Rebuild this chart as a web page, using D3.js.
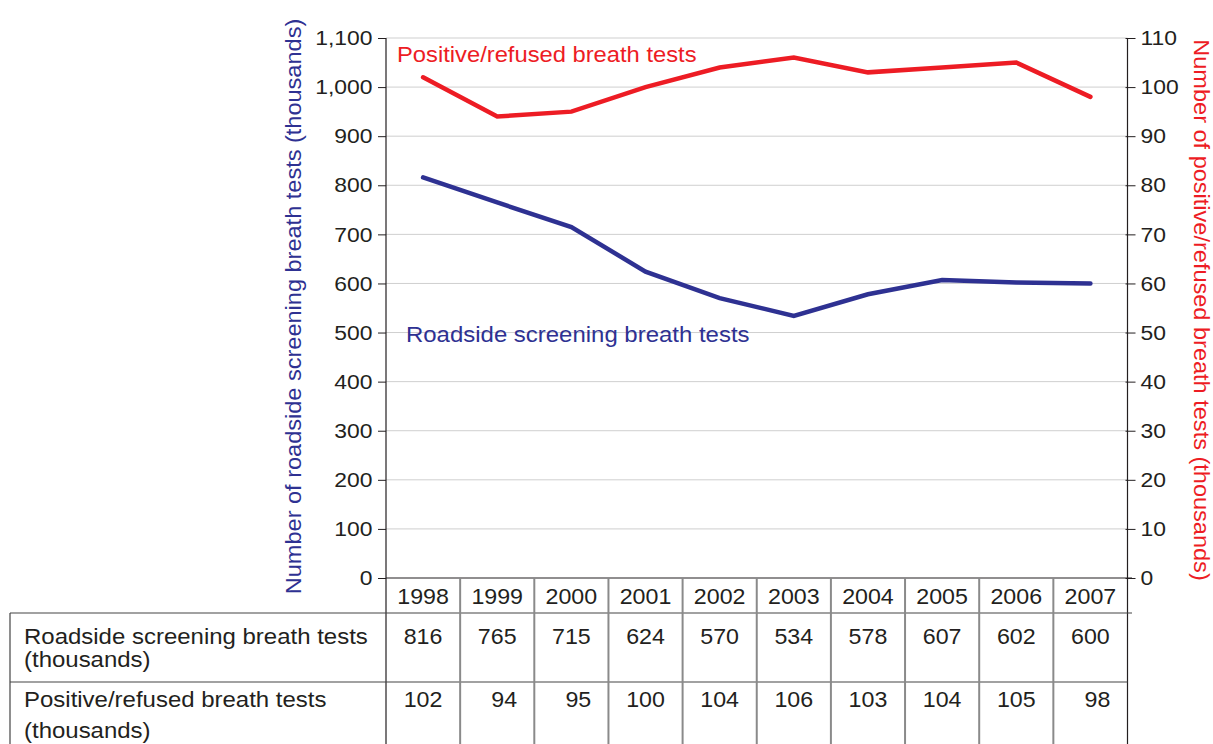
<!DOCTYPE html>
<html>
<head>
<meta charset="utf-8">
<script src="https://cdn.jsdelivr.net/npm/d3@7.9.0/dist/d3.min.js"></script>
<style>
  body { margin: 0; background: #fff; }
  svg text { font-family: "Liberation Sans", Arial, sans-serif; }
</style>
</head>
<body>
<svg id="chart" width="1213" height="744"></svg>
<script>
const years = [1998, 1999, 2000, 2001, 2002, 2003, 2004, 2005, 2006, 2007];
const roadside = [816, 765, 715, 624, 570, 534, 578, 607, 602, 600];
const positive = [102, 94, 95, 100, 104, 106, 103, 104, 105, 98];
const leftTicks = d3.range(0, 1101, 100);
const rightTicks = d3.range(0, 111, 10);
const rowLabels = [
  ["Roadside screening breath tests", "(thousands)"],
  ["Positive/refused breath tests", "(thousands)"]
];

const blue = "#2e3192", red = "#ed1c24", ink = "#231f20";
const svg = d3.select("#chart");
const plotL = 386, plotR = 1127.5, plotT = 38, plotB = 578;

// the source font is a little wider than Liberation Sans, so stretch text horizontally
function stretch(sel, k) {
  sel.each(function () {
    const t = d3.select(this);
    const x = +t.attr("x") || 0, y = +t.attr("y") || 0;
    t.attr("x", null).attr("y", null).attr("transform", `translate(${x},${y}) scale(${k},1)`);
  });
}

const x = d3.scaleBand().domain(years).range([plotL, plotR]);
const yL = d3.scaleLinear().domain([0, 1100]).range([plotB, plotT]);
const yR = d3.scaleLinear().domain([0, 110]).range([plotB, plotT]);

// gridlines
svg.append("g").selectAll("line").data(leftTicks.filter(d => d > 0)).join("line")
  .attr("x1", plotL).attr("x2", plotR)
  .attr("y1", d => yL(d)).attr("y2", d => yL(d))
  .attr("stroke", "#cfcfcf").attr("stroke-width", 1);

// axes
const axL = svg.append("g").attr("transform", `translate(${plotL},0)`)
  .call(d3.axisLeft(yL).tickValues(leftTicks).tickFormat(d3.format(",")).tickSize(8).tickPadding(5.5));
const axR = svg.append("g").attr("transform", `translate(${plotR},0)`)
  .call(d3.axisRight(yR).tickValues(rightTicks).tickSize(8).tickPadding(5));
[axL, axR].forEach(ax => {
  ax.select(".domain").remove();
  ax.selectAll("line").attr("stroke", ink);
  ax.selectAll("text").attr("font-size", 20.8).attr("fill", ink)
    .style("font-family", '"Liberation Sans", Arial, sans-serif');
  stretch(ax.selectAll("text"), 1.1);
});
axR.selectAll(".tick line").attr("x1", -2);
svg.append("line").attr("x1", plotL).attr("x2", plotL).attr("y1", plotT).attr("y2", 744)
  .attr("stroke", ink).attr("stroke-width", 1.2);
svg.append("line").attr("x1", plotR).attr("x2", plotR).attr("y1", plotT).attr("y2", 744)
  .attr("stroke", ink).attr("stroke-width", 1.2);

// axis titles
svg.append("text").attr("transform", `translate(301,${(plotT + plotB) / 2 - 1.5}) rotate(-90) scale(1.1,1)`)
  .attr("text-anchor", "middle").attr("font-size", 21.4).attr("fill", blue)
  .text("Number of roadside screening breath tests (thousands)");
svg.append("text").attr("transform", `translate(1194,${(plotT + plotB) / 2 + 2}) rotate(90) scale(1.1,1)`)
  .attr("text-anchor", "middle").attr("font-size", 21.4).attr("fill", red)
  .text("Number of positive/refused breath tests (thousands)");

// lines
const cx = d => x(d) + x.bandwidth() / 2;
svg.append("path").datum(roadside)
  .attr("d", d3.line().x((d, i) => cx(years[i])).y(d => yL(d)))
  .attr("fill", "none").attr("stroke", blue).attr("stroke-width", 4.5).attr("stroke-linecap", "round");
svg.append("path").datum(positive)
  .attr("d", d3.line().x((d, i) => cx(years[i])).y(d => yR(d)))
  .attr("fill", "none").attr("stroke", red).attr("stroke-width", 4.5).attr("stroke-linecap", "round");

// series labels
const lab1 = svg.append("text").attr("x", 397).attr("y", 62).attr("font-size", 21.5).attr("fill", red)
  .text("Positive/refused breath tests");
const lab2 = svg.append("text").attr("x", 406).attr("y", 342).attr("font-size", 21.5).attr("fill", blue)
  .text("Roadside screening breath tests");
stretch(lab1, 1.105);
stretch(lab2, 1.115);

// table
const rowTop = 613, rowMid = 682;
const tbl = svg.append("g");
tbl.append("line").attr("x1", plotL).attr("x2", 1132).attr("y1", plotB).attr("y2", plotB)
  .attr("stroke", ink).attr("stroke-width", 1.2);
tbl.append("line").attr("x1", 10).attr("x2", 1132).attr("y1", rowTop).attr("y2", rowTop)
  .attr("stroke", "#444").attr("stroke-width", 1.2);
tbl.append("line").attr("x1", 10).attr("x2", plotR).attr("y1", rowMid).attr("y2", rowMid)
  .attr("stroke", "#444").attr("stroke-width", 1.2);
tbl.append("line").attr("x1", 10).attr("x2", 10).attr("y1", rowTop).attr("y2", 744)
  .attr("stroke", "#444").attr("stroke-width", 1.2);
tbl.selectAll(".sep").data(years.slice(1)).join("line")
  .attr("x1", d => x(d)).attr("x2", d => x(d)).attr("y1", plotB).attr("y2", 744)
  .attr("stroke", "#8a8a8a").attr("stroke-width", 2);

const yrT = tbl.selectAll(".yr").data(years).join("text")
  .attr("x", cx).attr("y", 604).attr("text-anchor", "middle")
  .attr("font-size", 21.5).attr("fill", ink).text(d => d);
const r1T = tbl.selectAll(".r1").data(roadside).join("text")
  .attr("x", (d, i) => cx(years[i])).attr("y", 644).attr("text-anchor", "middle")
  .attr("font-size", 21.5).attr("fill", ink).text(d => d);
const r2T = tbl.selectAll(".r2").data(positive).join("text")
  .attr("x", (d, i) => cx(years[i]) + (d < 100 ? 7 : 0)).attr("y", 707).attr("text-anchor", "middle")
  .attr("font-size", 21.5).attr("fill", ink).text(d => d);
[yrT, r1T, r2T].forEach(s => stretch(s, 1.08));

const labY = [[644, 667], [707, 738]];
rowLabels.forEach((lines, r) => {
  lines.forEach((t, k) => {
    const el = tbl.append("text").attr("x", 24).attr("y", labY[r][k])
      .attr("font-size", 21.8).attr("fill", ink).text(t);
    stretch(el, 1.1);
  });
});
</script>
</body>
</html>
